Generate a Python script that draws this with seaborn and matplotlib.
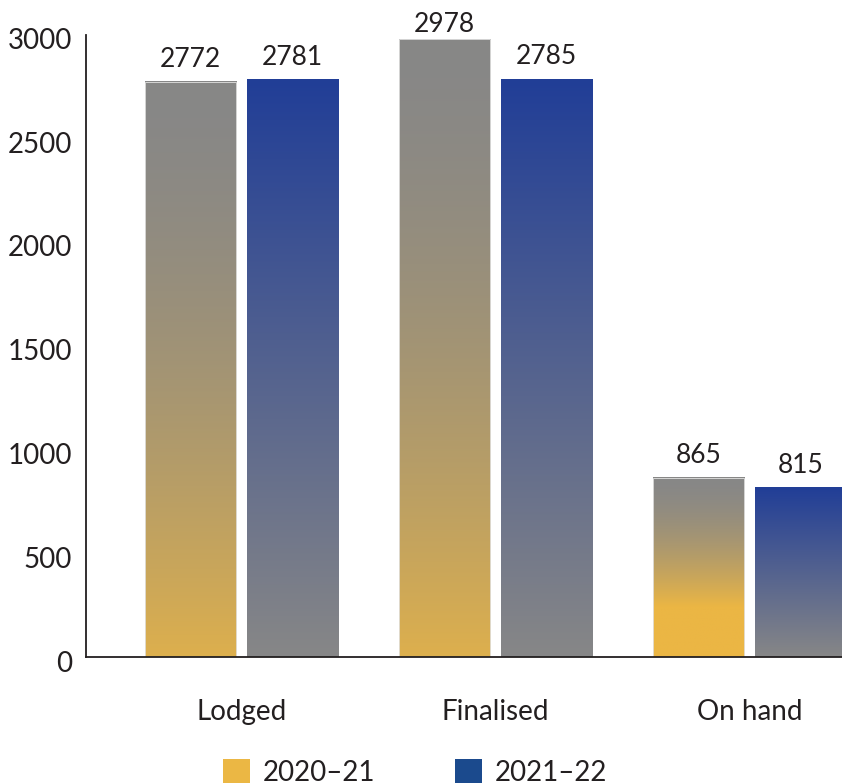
import numpy as np
import pandas as pd
import matplotlib
matplotlib.use("Agg")
import matplotlib.pyplot as plt
from matplotlib.patches import Patch
from matplotlib.transforms import ScaledTranslation
import seaborn as sns

# ---- data ----
categories = ["Lodged", "Finalised", "On hand"]
years = ["2020\u201321", "2021\u201322"]
values_2020_21 = [2772, 2978, 865]
values_2021_22 = [2781, 2785, 815]
yticks = [0, 500, 1000, 1500, 2000, 2500, 3000]

df = pd.DataFrame({
    "category": categories * 2,
    "year": [years[0]] * 3 + [years[1]] * 3,
    "value": values_2020_21 + values_2021_22,
})

# ---- style ----
sns.set_theme(style="white")
plt.rcParams["font.family"] = ["Lato", "DejaVu Sans"]
TXT = "#231F20"
GRAY = np.array([135, 135, 135]) / 255
GOLD = np.array([235, 182, 68]) / 255
BLUE_TOP = np.array([33, 62, 151]) / 255
LEG_GOLD = "#EBB744"
LEG_BLUE = "#1B4A8D"
gold_stop = {"Lodged": 1.1, "Finalised": 1.1, "On hand": 0.72}

fig = plt.figure(figsize=(8.42, 7.84), dpi=100)
ax = fig.add_axes([86 / 842, (784 - 657) / 784, (842 - 86) / 842, (657 - 34.5) / 784])

sns.barplot(data=df, x="category", y="value", hue="year", order=categories,
            hue_order=years, palette=[LEG_GOLD, LEG_BLUE], width=0.8, gap=0.1,
            ax=ax, legend=False, saturation=1)

xlim = (-0.612, 2.364)
ylim = (0, 3000)

# gradient fills
bars = [p for p in ax.patches if p.get_height() > 0]
n = 256
for p in bars:
    x0, w, h = p.get_x(), p.get_width(), p.get_height()
    xc = x0 + w / 2
    cat_idx = int(round(xc))
    is_gold = xc < cat_idx
    s = np.linspace(1, 0, n)  # fraction from top; row 0 at bottom (origin lower)
    if is_gold:
        t = np.clip((s / gold_stop[categories[cat_idx]]), 0, 1) ** 1.6
        cols = GRAY[None, :] * (1 - t[:, None]) + GOLD[None, :] * t[:, None]
    else:
        t = s
        cols = BLUE_TOP[None, :] * (1 - t[:, None]) + GRAY[None, :] * t[:, None]
    img = cols[:, None, :]
    ax.imshow(img, extent=[x0, x0 + w, 0, h], origin="lower", aspect="auto",
              zorder=p.get_zorder() + 0.1, interpolation="bilinear")
    p.set_facecolor("none")
    if is_gold:
        p.set_edgecolor("#E2E2E2")
        p.set_linewidth(0.6)
        p.set_zorder(p.get_zorder() + 0.2)

ax.set_xlim(*xlim)
ax.set_ylim(*ylim)
ax.set_yticks(yticks)
ax.set_yticklabels([str(v) for v in yticks])
ax.set_xlabel("")
ax.set_ylabel("")

ax.tick_params(axis="y", length=0, pad=10, labelsize=20, labelcolor=TXT)
ax.tick_params(axis="x", length=0, pad=30, labelsize=20, labelcolor=TXT)
for lab in ax.get_yticklabels():
    lab.set_transform(lab.get_transform() + ScaledTranslation(0, -0.04, fig.dpi_scale_trans))

for side in ["top", "right"]:
    ax.spines[side].set_visible(False)
for side in ["left", "bottom"]:
    ax.spines[side].set_color(TXT)
    ax.spines[side].set_linewidth(1.3)
ax.spines["bottom"].set_zorder(5)

# value labels
fig.canvas.draw()
vals = {}
for i, c in enumerate(categories):
    vals[(i - 0.2)] = values_2020_21[i]
    vals[(i + 0.2)] = values_2021_22[i]
for xc, v in vals.items():
    top_disp = ax.transData.transform((xc, v))[1]
    base = min(top_disp + 15, 784 - 32)
    off_pts = (base - top_disp) * 72 / 100
    ax.annotate(str(v), (xc, v), xytext=(0, off_pts), textcoords="offset points",
                ha="center", va="baseline", fontsize=19, color=TXT, annotation_clip=False)

handles = [Patch(facecolor=LEG_GOLD, edgecolor="none", label=years[0]),
           Patch(facecolor=LEG_BLUE, edgecolor="none", label=years[1])]
fig.legend(handles=handles, loc="upper left", bbox_to_anchor=(223 / 842, (784 - 759) / 784),
           ncol=2, frameon=False, fontsize=20, handlelength=0.97, handleheight=0.97,
           handletextpad=0.47, columnspacing=2.85, borderpad=0, borderaxespad=0,
           labelcolor=TXT)

fig.savefig("out.png", dpi=100)
